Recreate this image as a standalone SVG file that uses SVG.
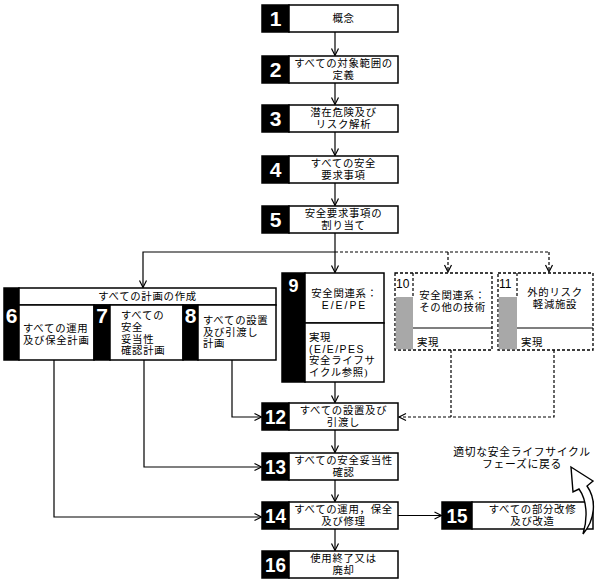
<svg xmlns="http://www.w3.org/2000/svg" width="600" height="584" viewBox="0 0 600 584">
<defs>
<style>
.box{fill:#fff;stroke:#000;stroke-width:1.5}
.blk{fill:#000;stroke:#000;stroke-width:1.5}
.dbox{fill:#fff;stroke:#000;stroke-width:1.3;stroke-dasharray:3 2}
.grey{fill:#a8a8a8}
.t{font-family:"Liberation Serif","Noto Sans CJK JP",sans-serif;font-size:10.4px;letter-spacing:0.7px;fill:#000;text-anchor:middle;dominant-baseline:central}
.tl{font-family:"Liberation Serif","Noto Sans CJK JP",sans-serif;font-size:10.4px;letter-spacing:0.7px;fill:#000;text-anchor:start;dominant-baseline:central}
.lat{font-family:"Liberation Sans",Arial,sans-serif}
.num{font-family:"Liberation Sans",Arial,sans-serif;font-size:21px;font-weight:bold;fill:#fff;text-anchor:middle;dominant-baseline:central}
.num2{font-family:"Liberation Sans",Arial,sans-serif;font-size:12px;fill:#000;text-anchor:start;dominant-baseline:central}
.ln{fill:none;stroke:#000;stroke-width:1.2}
.dl{fill:none;stroke:#000;stroke-width:1.2;stroke-dasharray:3 2}
</style>
<marker id="ar" viewBox="-9 -5 10 10" refX="0" refY="0" markerWidth="10" markerHeight="10" markerUnits="userSpaceOnUse" orient="auto" overflow="visible">
<path d="M-7,-3.5 L0,0 L-7,3.5" fill="none" stroke="#000" stroke-width="1.2"/>
</marker>
</defs>
<rect width="600" height="584" fill="#fff"/>

<g id="connectors">
<path class="ln" d="M335,32 V55.5" marker-end="url(#ar)"/>
<path class="ln" d="M335,83 V104.5" marker-end="url(#ar)"/>
<path class="ln" d="M335,132 V155.5" marker-end="url(#ar)"/>
<path class="ln" d="M335,183 V205.5" marker-end="url(#ar)"/>
<path class="ln" d="M335,233 V272.5" marker-end="url(#ar)"/>
<path class="ln" d="M335,252 H143 V287.5" marker-end="url(#ar)"/>
<path class="dl" d="M335,252 H549"/>
<path class="dl" d="M448,252 V272" marker-end="url(#ar)"/>
<path class="dl" d="M549,252 V272" marker-end="url(#ar)"/>
<path class="ln" d="M335,382 V402.5" marker-end="url(#ar)"/>
<path class="ln" d="M232,360 V417 H261.5" marker-end="url(#ar)"/>
<path class="dl" d="M451,350 V417"/>
<path class="dl" d="M554,350 V417 H399" marker-end="url(#ar)"/>
<path class="ln" d="M335,430 V452.5" marker-end="url(#ar)"/>
<path class="ln" d="M144,360 V467 H261.5" marker-end="url(#ar)"/>
<path class="ln" d="M335,480 V501.5" marker-end="url(#ar)"/>
<path class="ln" d="M54,360 V517 H261.5" marker-end="url(#ar)"/>
<path class="ln" d="M335,529 V550.5" marker-end="url(#ar)"/>
<path class="ln" d="M398,515.5 H441.5" marker-end="url(#ar)"/>
</g>

<g id="n1">
<rect class="blk" x="262" y="5" width="27" height="27"/>
<rect class="box" x="289" y="5" width="109" height="27"/>
<text class="num" x="275.5" y="18.5">1</text>
<text class="t" x="343.5" y="18.5">概念</text>
</g>
<g id="n2">
<rect class="blk" x="262" y="56" width="27" height="27"/>
<rect class="box" x="289" y="56" width="109" height="27"/>
<text class="num" x="275.5" y="69.5">2</text>
<text class="t" x="343.5" y="63.7">すべての対象範囲の<tspan x="343.5" dy="11.6">定義</tspan></text>
</g>
<g id="n3">
<rect class="blk" x="262" y="105" width="27" height="27"/>
<rect class="box" x="289" y="105" width="109" height="27"/>
<text class="num" x="275.5" y="118.5">3</text>
<text class="t" x="343.5" y="112.7">潜在危険及び<tspan x="343.5" dy="11.6">リスク解析</tspan></text>
</g>
<g id="n4">
<rect class="blk" x="262" y="156" width="27" height="27"/>
<rect class="box" x="289" y="156" width="109" height="27"/>
<text class="num" x="275.5" y="169.5">4</text>
<text class="t" x="343.5" y="163.7">すべての安全<tspan x="343.5" dy="11.6">要求事項</tspan></text>
</g>
<g id="n5">
<rect class="blk" x="262" y="206" width="27" height="27"/>
<rect class="box" x="289" y="206" width="109" height="27"/>
<text class="num" x="275.5" y="219.5">5</text>
<text class="t" x="343.5" y="213.7">安全要求事項の<tspan x="343.5" dy="11.6">割り当て</tspan></text>
</g>

<g id="plans">
<rect class="blk" x="4" y="288" width="15" height="72"/>
<rect class="box" x="19" y="288" width="257" height="17"/>
<text class="t" x="147.5" y="296.5">すべての計画の作成</text>
</g>
<g id="n6">
<rect class="box" x="19" y="305" width="75" height="55"/>
<text class="num" x="11.5" y="315">6</text>
<text class="tl" x="23" y="328">すべての運用<tspan x="23" dy="12">及び保全計画</tspan></text>
</g>
<g id="n7">
<rect class="blk" x="94" y="305" width="16" height="55"/>
<rect class="box" x="110" y="305" width="73" height="55"/>
<text class="num" x="102" y="315">7</text>
<text class="tl" x="121" y="315.5">すべての<tspan x="121" dy="11.6">安全</tspan><tspan x="121" dy="11.6">妥当性</tspan><tspan x="121" dy="11.6">確認計画</tspan></text>
</g>
<g id="n8">
<rect class="blk" x="183" y="305" width="15" height="55"/>
<rect class="box" x="198" y="305" width="78" height="55"/>
<text class="num" x="190.5" y="315">8</text>
<text class="tl" x="203" y="320">すべての設置<tspan x="203" dy="11.6">及び引渡し</tspan><tspan x="203" dy="11.6">計画</tspan></text>
</g>

<g id="n9">
<rect class="blk" x="282" y="273" width="23" height="109"/>
<rect class="box" x="305" y="273" width="79" height="50"/>
<rect class="box" x="305" y="323" width="79" height="59"/>
<text class="num" x="293.5" y="286" style="font-size:18px">9</text>
<text class="t" x="344.5" y="293.5">安全関連系：<tspan class="lat" x="344.5" dy="11.6" style="letter-spacing:2px">E/E/PE</tspan></text>
<text class="tl" x="309" y="337">実現<tspan class="lat" x="309" dy="11.6" style="letter-spacing:1.5px">(E/E/PES</tspan><tspan x="309" dy="11.6">安全ライフサ</tspan><tspan x="309" dy="11.6">イクル参照)</tspan></text>
</g>

<g id="n10">
<rect class="dbox" x="395" y="273" width="97" height="77"/>
<rect class="grey" x="395.7" y="297" width="17.3" height="52.3"/>
<path class="dl" d="M413,273 V297"/>
<path class="ln" d="M413,328 H492"/>
<text class="num2" x="396" y="284">10</text>
<text class="t" x="452.5" y="295">安全関連系：<tspan x="452.5" dy="12">その他の技術</tspan></text>
<text class="tl" x="417" y="342">実現</text>
</g>
<g id="n11">
<rect class="dbox" x="498" y="273" width="95" height="77"/>
<rect class="grey" x="498.7" y="297" width="18.3" height="52.3"/>
<path class="dl" d="M517,273 V297"/>
<path class="ln" d="M517,328 H593"/>
<text class="num2" x="499" y="284">11</text>
<text class="t" x="555" y="292">外的リスク<tspan x="555" dy="12">軽減施設</tspan></text>
<text class="tl" x="521" y="342">実現</text>
</g>

<g id="n12">
<rect class="blk" x="262" y="403" width="27" height="27"/>
<rect class="box" x="289" y="403" width="109" height="27"/>
<text class="num" x="275.5" y="416.5" textLength="21" lengthAdjust="spacingAndGlyphs">12</text>
<text class="t" x="343.5" y="410.7">すべての設置及び<tspan x="343.5" dy="11.6">引渡し</tspan></text>
</g>
<g id="n13">
<rect class="blk" x="262" y="453" width="27" height="27"/>
<rect class="box" x="289" y="453" width="109" height="27"/>
<text class="num" x="275.5" y="466.5" textLength="21" lengthAdjust="spacingAndGlyphs">13</text>
<text class="t" x="343.5" y="460.7">すべての安全妥当性<tspan x="343.5" dy="11.6">確認</tspan></text>
</g>
<g id="n14">
<rect class="blk" x="262" y="502" width="27" height="27"/>
<rect class="box" x="289" y="502" width="109" height="27"/>
<text class="num" x="275.5" y="515.5" textLength="21" lengthAdjust="spacingAndGlyphs">14</text>
<text class="t" x="343.5" y="509.7">すべての運用，保全<tspan x="343.5" dy="11.6">及び修理</tspan></text>
</g>
<g id="n16">
<rect class="blk" x="262" y="551" width="27" height="27"/>
<rect class="box" x="289" y="551" width="109" height="27"/>
<text class="num" x="275.5" y="564.5" textLength="21" lengthAdjust="spacingAndGlyphs">16</text>
<text class="t" x="343.5" y="558.7">使用終了又は<tspan x="343.5" dy="11.6">廃却</tspan></text>
</g>
<g id="n15">
<rect class="blk" x="442" y="502" width="30" height="27"/>
<rect class="box" x="472" y="502" width="121" height="27"/>
<text class="num" x="457" y="515.5" textLength="21" lengthAdjust="spacingAndGlyphs">15</text>
<text class="t" x="532.5" y="509.7">すべての部分改修<tspan x="532.5" dy="11.6">及び改造</tspan></text>
</g>

<g id="return">
<text class="t" x="522" y="452" style="font-size:10.8px">適切な安全ライフサイクル<tspan x="522" dy="12.4">フェーズに戻る</tspan></text>
<path d="M583,534 C595,520 597,500 587,486 L593,481 L571,467 L573,492 L579,489 C587,500 588,518 583,534 Z" fill="#fff" stroke="#000" stroke-width="1.4" stroke-linejoin="miter"/>
</g>
</svg>
